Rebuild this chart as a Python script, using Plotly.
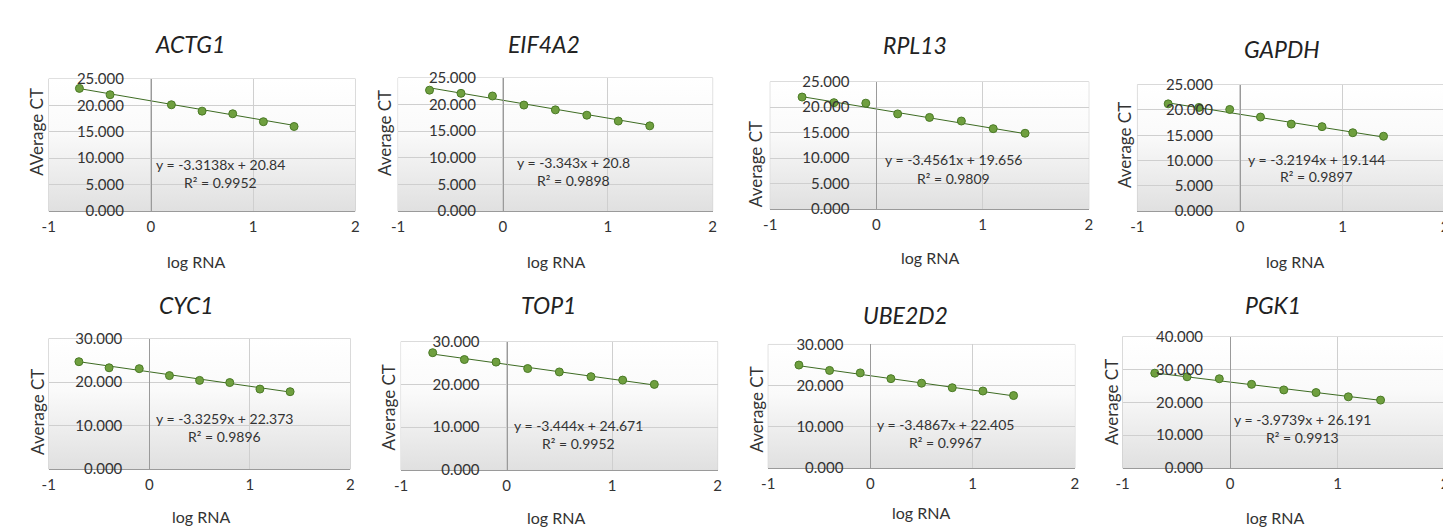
import base64
import plotly.graph_objects as go

W, H = 1451, 527

genes = ["ACTG1", "EIF4A2", "RPL13", "GAPDH", "CYC1", "TOP1", "UBE2D2", "PGK1"]
y_titles = ["AVerage CT", "Average CT", "Average CT", "Average CT",
            "Average CT", "Average CT", "Average CT", "Average CT"]

log_rna_full = [-0.7, -0.4, -0.1, 0.2, 0.5, 0.8, 1.1, 1.4]
log_rna_actg1 = [-0.7, -0.4, 0.2, 0.5, 0.8, 1.1, 1.4]

ct_actg1 = [23.2, 22.0, 20.1, 18.9, 18.4, 16.9, 16.0]
ct_eif4a2 = [22.7, 22.1, 21.6, 19.9, 19.0, 18.0, 16.9, 16.0]
ct_rpl13 = [22.0, 20.9, 20.8, 18.7, 18.0, 17.3, 15.8, 14.9]
ct_gapdh = [21.2, 20.5, 20.1, 18.6, 17.2, 16.7, 15.5, 14.8]
ct_cyc1 = [24.7, 23.3, 23.1, 21.5, 20.4, 19.9, 18.4, 17.8]
ct_top1 = [27.4, 25.8, 25.2, 23.7, 22.9, 21.8, 21.0, 20.0]
ct_ube2d2 = [25.0, 23.7, 23.1, 21.7, 20.6, 19.5, 18.7, 17.6]
ct_pgk1 = [28.9, 27.8, 27.2, 25.5, 23.8, 23.0, 21.7, 20.7]

xs = [log_rna_actg1] + [log_rna_full] * 7
ys = [ct_actg1, ct_eif4a2, ct_rpl13, ct_gapdh, ct_cyc1, ct_top1, ct_ube2d2, ct_pgk1]

slopes = [-3.3138, -3.343, -3.4561, -3.2194, -3.3259, -3.444, -3.4867, -3.9739]
intercepts = [20.84, 20.8, 19.656, 19.144, 22.373, 24.671, 22.405, 26.191]
slope_txt = ["-3.3138", "-3.343", "-3.4561", "-3.2194", "-3.3259", "-3.444", "-3.4867", "-3.9739"]
icpt_txt = ["20.84", "20.8", "19.656", "19.144", "22.373", "24.671", "22.405", "26.191"]
r2_txt = ["0.9952", "0.9898", "0.9809", "0.9897", "0.9896", "0.9952", "0.9967", "0.9913"]

y_max = [25, 25, 25, 25, 30, 30, 30, 40]
y_dtick = [5, 5, 5, 5, 10, 10, 10, 10]
x_ticks = [-1, 0, 1, 2]
x_ticktext = ["-1", "0", "1", "2"]

# layout geometry (pixels): left, right, top, bottom of each plot area
boxes = [(34, 343, 63, 200), (386, 703, 62, 200), (761, 1082, 66, 198), (1131, 1441, 69, 200),
         (34, 338, 332, 467), (389, 708, 335, 468), (759, 1068, 338, 466), (1116, 1441, 330, 466)]
title_pos = [(176, 27), (533, 27), (907, 28), (1277, 32), (173, 297), (538, 297), (897, 307), (1268, 297)]
ytitle_pos = [(22, 118), (373, 119), (747, 151), (1118, 132), (22, 408), (376, 403), (747, 405), (1105, 398)]
xtitle_pos = [(182, 252), (545, 252), (922, 248), (1290, 252), (187, 516), (545, 517), (913, 512), (1270, 517)]
eq_pos = [(0.68, 8.84, 5.5), (0.67, 9.15, 5.67), (0.73, 9.66, 6.06), (0.75, 10.18, 6.8),
          (0.75, 11.7, 7.6), (0.68, 10.4, 6.25), (0.73, 10.5, 6.3), (0.67, 14.7, 9.3)]

FONT = "Lato"
TXT = "#333333"
GRID = "#cfcfcf"

svg = ('<svg xmlns="http://www.w3.org/2000/svg" width="10" height="100" preserveAspectRatio="none">'
       '<defs><linearGradient id="g" x1="0" y1="0" x2="0" y2="1">'
       '<stop offset="0" stop-color="#ffffff"/><stop offset="0.4" stop-color="#fafafa"/>'
       '<stop offset="1" stop-color="#e0e0e0"/></linearGradient></defs>'
       '<rect width="10" height="100" fill="url(#g)"/></svg>')
bg_src = "data:image/svg+xml;base64," + base64.b64encode(svg.encode()).decode()

fig = go.Figure()
annotations = []
images = []
shapes = []
layout_axes = {}

for i in range(8):
    n = i + 1
    xa = "x" if n == 1 else f"x{n}"
    ya = "y" if n == 1 else f"y{n}"
    xkey = "xaxis" if n == 1 else f"xaxis{n}"
    ykey = "yaxis" if n == 1 else f"yaxis{n}"
    l, r, t, b = boxes[i]
    xd = [l / W, r / W]
    yd = [1 - b / H, 1 - t / H]
    x0_paper = xd[0] + (xd[1] - xd[0]) * (0 - (-1)) / 3.0

    # trendline
    xmin, xmax = min(xs[i]), max(xs[i])
    fig.add_trace(go.Scatter(
        x=[xmin, xmax], y=[slopes[i] * xmin + intercepts[i], slopes[i] * xmax + intercepts[i]],
        mode="lines", line=dict(color="#3d6b22", width=1), xaxis=xa, yaxis=ya,
        showlegend=False, hoverinfo="skip"))
    # data points
    fig.add_trace(go.Scatter(
        x=xs[i], y=ys[i], mode="markers",
        marker=dict(size=8, color="#6f9f3f", line=dict(color="#4a7a26", width=1)),
        xaxis=xa, yaxis=ya, showlegend=False, name=genes[i]))

    layout_axes[xkey] = dict(
        domain=xd, anchor=ya, range=[-1, 2], tickvals=x_ticks, ticktext=x_ticktext, showgrid=True,
        gridcolor=GRID, gridwidth=1, zeroline=False, showline=True,
        linecolor="#9a9a9a", linewidth=1, ticks="", ticklabelstandoff=2,
        tickfont=dict(family=FONT, size=15, color=TXT), fixedrange=True)
    layout_axes[ykey] = dict(
        domain=yd, anchor="free", position=x0_paper, range=[0, y_max[i]], dtick=y_dtick[i],
        tick0=0, tickformat=".3f", showgrid=True, gridcolor=GRID, gridwidth=1,
        zeroline=False, showline=True, linecolor="#9a9a9a", linewidth=1, ticks="",
        ticklabelstandoff=24, tickfont=dict(family=FONT, size=15, color=TXT), fixedrange=True)

    images.append(dict(source=bg_src, xref=f"{xa} domain", yref=f"{ya} domain",
                       x=0, y=1, sizex=1, sizey=1, sizing="stretch", layer="below",
                       xanchor="left", yanchor="top"))
    shapes.append(dict(type="rect", xref=f"{xa} domain", yref=f"{ya} domain", x0=0, x1=1, y0=0, y1=1,
                       line=dict(color=GRID, width=1), fillcolor="rgba(0,0,0,0)", layer="below"))

    tx, ty = title_pos[i]
    annotations.append(dict(text=f"<i>{genes[i]}</i>", x=tx / W, y=1 - ty / H, xref="paper",
                            yref="paper", showarrow=False, xanchor="center", yanchor="middle",
                            font=dict(family=FONT, size=23, color="#222222")))
    yx, yy = ytitle_pos[i]
    annotations.append(dict(text=y_titles[i], x=yx / W, y=1 - yy / H, xref="paper", yref="paper",
                            showarrow=False, textangle=-90, xanchor="center", yanchor="middle",
                            font=dict(family=FONT, size=17, color=TXT)))
    xx, xy = xtitle_pos[i]
    annotations.append(dict(text="log RNA", x=xx / W, y=1 - xy / H, xref="paper", yref="paper",
                            showarrow=False, xanchor="center", yanchor="middle",
                            font=dict(family=FONT, size=16, color=TXT)))
    ex, ey, ry = eq_pos[i]
    annotations.append(dict(text=f"y = {slope_txt[i]}x + {icpt_txt[i]}", x=ex, y=ey, xref=xa, yref=ya,
                            showarrow=False, xanchor="center", yanchor="middle",
                            font=dict(family=FONT, size=14, color=TXT)))
    annotations.append(dict(text=f"R² = {r2_txt[i]}", x=ex, y=ry, xref=xa, yref=ya,
                            showarrow=False, xanchor="center", yanchor="middle",
                            font=dict(family=FONT, size=14, color=TXT)))

fig.update_layout(
    width=W, height=H, margin=dict(l=0, r=0, t=0, b=0),
    paper_bgcolor="white", plot_bgcolor="rgba(0,0,0,0)",
    annotations=annotations, images=images, shapes=shapes, showlegend=False,
    font=dict(family=FONT, color=TXT), **layout_axes)

fig.write_html("out.html", config={"displayModeBar": False})
